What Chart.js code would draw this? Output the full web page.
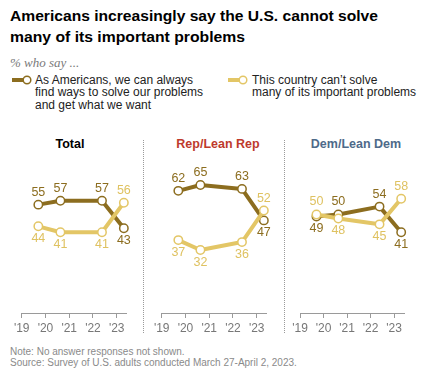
<!DOCTYPE html>
<html><head><meta charset="utf-8">
<script src="https://cdn.jsdelivr.net/npm/chart.js@4.4.1/dist/chart.umd.min.js"></script>
<style>
body{margin:0;width:434px;height:373px;background:#fff;position:relative;overflow:hidden;font-family:"Liberation Sans",Arial,sans-serif;}
.abs{position:absolute;white-space:nowrap;}
.ttl{font-weight:bold;font-size:15.5px;color:#000;left:10px;transform-origin:0 0;line-height:21px;}
#sub{left:10px;top:55px;font-family:"Liberation Serif",serif;font-style:italic;font-size:13px;color:#7a7a7a;}
.leg{font-size:12px;line-height:12.3px;color:#222;top:74px;}
.ptitle{font-weight:bold;font-size:12.5px;width:140px;text-align:center;top:137px;line-height:14px;}
.sep{top:140px;height:193px;width:0;border-left:1.2px dotted #9a9a9a;}
.note{left:10px;font-size:10px;color:#8a8a8a;line-height:11px;}
canvas{position:absolute;}
</style></head>
<body>
<div id="t1" class="abs ttl" style="top:5px">Americans increasingly say the U.S. cannot solve</div>
<div id="t2" class="abs ttl" style="top:26px">many of its important problems</div>
<div id="sub" class="abs">% who say ...</div>
<svg class="abs" style="left:10px;top:74px" width="24" height="12"><line x1="2" y1="6" x2="15" y2="6" stroke="#8C6D1F" stroke-width="4"/><circle cx="17" cy="6" r="3.8" fill="#fff" stroke="#8C6D1F" stroke-width="1.5"/></svg>
<div class="abs leg" style="left:35px">As Americans, we can always<br>find ways to solve our problems<br>and get what we want</div>
<svg class="abs" style="left:226px;top:74px" width="24" height="12"><line x1="2" y1="6" x2="15" y2="6" stroke="#E3C666" stroke-width="4"/><circle cx="17" cy="6" r="3.8" fill="#fff" stroke="#E3C666" stroke-width="1.5"/></svg>
<div class="abs leg" style="left:252px">This country can’t solve<br>many of its important problems</div>

<div class="abs ptitle" style="left:0px;color:#000">Total</div>
<div class="abs ptitle" style="left:148px;color:#BE3A2C">Rep/Lean Rep</div>
<div class="abs ptitle" style="left:286px;color:#4E6A89">Dem/Lean Dem</div>
<div class="abs sep" style="left:143px"></div>
<div class="abs sep" style="left:284px"></div>

<canvas id="c1" style="left:0px;top:110px" width="142" height="230"></canvas>
<canvas id="c2" style="left:145px;top:110px" width="138" height="230"></canvas>
<canvas id="c3" style="left:286px;top:110px" width="148" height="230"></canvas>

<div class="abs note" style="top:346px">Note: No answer responses not shown.<br>Source: Survey of U.S. adults conducted March 27-April 2, 2023.</div>

<script>
// ---- data ----
const surveyDates = [2019.7, 2020.63, 2022.38, 2023.3];
const tickYears = [2019, 2020, 2021, 2022, 2023];
const tickLabels = ["'19", "'20", "'21", "'22", "'23"];
const totalCanSolve = [55, 57, 57, 43];
const totalCannotSolve = [44, 41, 41, 56];
const repCanSolve = [62, 65, 63, 47];
const repCannotSolve = [37, 32, 36, 52];
const demCanSolve = [49, 50, 54, 41];
const demCannotSolve = [50, 48, 45, 58];

// ---- styles ----
const DARK = '#8C6D1F', LIGHT = '#E3C666', LIGHT_LABEL = '#DFC261';
const FONT = '"Liberation Sans", Arial, sans-serif';

function fitWidth(id, target){
  const el = document.getElementById(id);
  const w = el.getBoundingClientRect().width;
  el.style.transform = 'scaleX(' + (target / w) + ')';
}
fitWidth('t1', 368);
fitWidth('t2', 235);

const labelPlugin = {
  id: 'vlabels',
  afterDatasetsDraw(chart){
    const ctx = chart.ctx;
    chart.data.datasets.forEach((ds, di) => {
      const meta = chart.getDatasetMeta(di);
      meta.data.forEach((pt, i) => {
        const above = ds.labelPos[i] === 'a';
        ctx.save();
        ctx.font = '12.5px ' + FONT;
        ctx.fillStyle = ds.labelColor;
        ctx.textAlign = 'center';
        ctx.textBaseline = 'middle';
        ctx.fillText(String(ds.data[i].y), pt.x, pt.y + (above ? -12.5 : 12.5));
        ctx.restore();
      });
    });
  }
};

function pts(vals){ return vals.map((v, i) => ({x: surveyDates[i], y: v})); }

function makePanel(id, can, cannot, padL, padR, canPos, cannotPos){
  new Chart(document.getElementById(id), {
    type: 'line',
    data: {
      datasets: [
        {data: pts(cannot), borderColor: LIGHT, labelColor: LIGHT_LABEL, labelPos: cannotPos},
        {data: pts(can), borderColor: DARK, labelColor: DARK, labelPos: canPos}
      ].map(d => Object.assign({
        borderWidth: 4, pointRadius: 4.2, pointBorderWidth: 1.5,
        pointBackgroundColor: '#fff', pointBorderColor: d.borderColor,
        tension: 0, clip: false, borderJoinStyle: 'round'
      }, d))
    },
    options: {
      responsive: false, animation: false, events: [],
      layout: {padding: {left: padL, right: padR, top: 6, bottom: 0}},
      plugins: {legend: {display: false}, tooltip: {enabled: false}},
      scales: {
        y: {display: false, min: 0, max: 100},
        x: {
          type: 'linear', min: 2019, max: 2023.42,
          afterBuildTicks: s => { s.ticks = tickYears.map(v => ({value: v})); },
          afterFit: s => { s.height = 27; },
          ticks: {
            callback: (v) => tickLabels[tickYears.indexOf(v)],
            color: '#777', font: {size: 12, family: FONT}, padding: 3, maxRotation: 0, autoSkip: false
          },
          grid: {drawOnChartArea: false, drawTicks: true, tickLength: 5, color: '#9a9a9a', lineWidth: 1},
          border: {display: true, color: '#9a9a9a', width: 1}
        }
      }
    },
    plugins: [labelPlugin]
  });
}

makePanel('c1', totalCanSolve, totalCannotSolve, 21.7, 15.3, ['a','a','a','b'], ['b','b','b','a']);
makePanel('c2', repCanSolve, repCannotSolve, 16.7, 16.3, ['a','a','a','b'], ['b','b','b','a']);
makePanel('c3', demCanSolve, demCannotSolve, 14, 30, ['b','a','a','b'], ['a','b','b','a']);
</script>
</body></html>
